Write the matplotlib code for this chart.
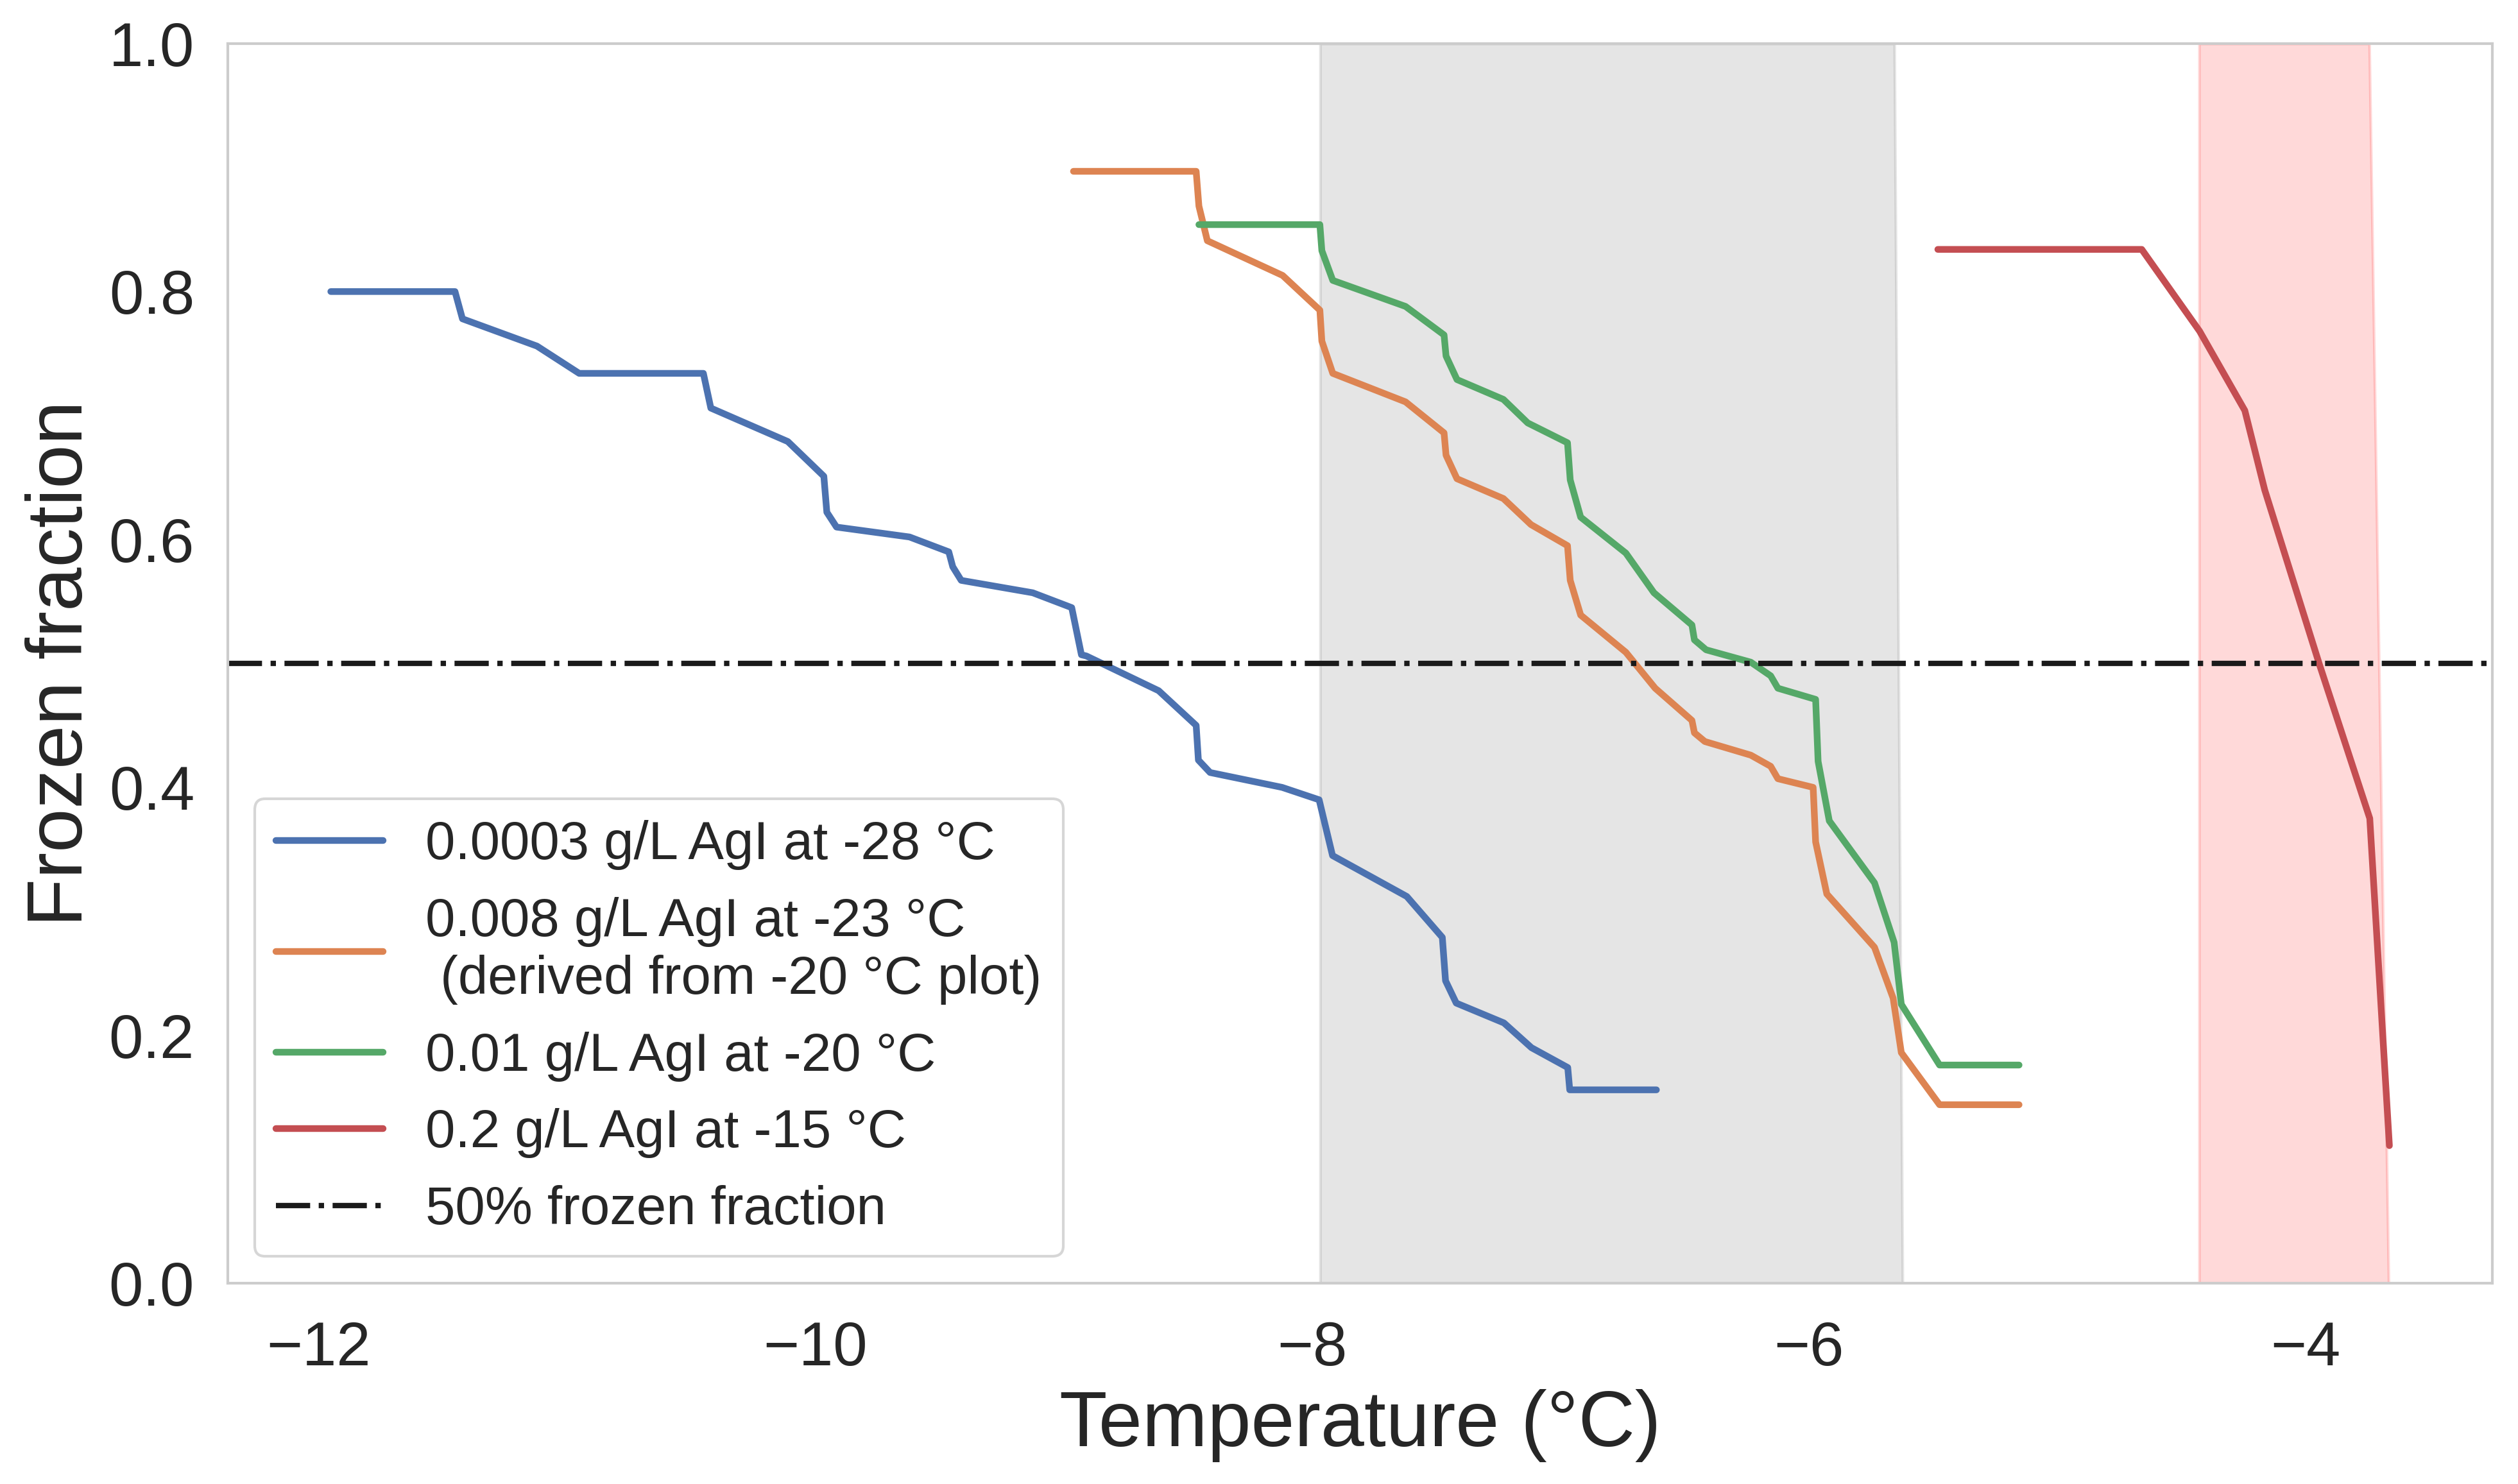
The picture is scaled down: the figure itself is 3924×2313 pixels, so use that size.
import matplotlib
matplotlib.use("Agg")
import matplotlib.pyplot as plt
import seaborn as sns

# frozen fraction curves
temp_0003 = [-11.95, -11.45, -11.42, -11.12, -10.95, -10.45, -10.42, -10.11, -9.965, -9.953,
             -9.914, -9.62, -9.462, -9.446, -9.412, -9.124, -8.967, -8.928, -8.908, -8.617,
             -8.466, -8.457, -8.41, -8.12, -7.971, -7.917, -7.618, -7.475, -7.462, -7.419,
             -7.227, -7.116, -6.97, -6.962, -6.613]
frac_0003 = [0.800, 0.800, 0.778, 0.756, 0.734, 0.734, 0.706, 0.679, 0.651, 0.622,
             0.610, 0.602, 0.590, 0.578, 0.567, 0.557, 0.545, 0.507, 0.506, 0.478,
             0.450, 0.422, 0.412, 0.400, 0.390, 0.345, 0.312, 0.279, 0.244, 0.226,
             0.210, 0.190, 0.174, 0.156, 0.156]

temp_008 = [-8.96, -8.466, -8.455, -8.421, -8.118, -7.968, -7.96, -7.916, -7.623, -7.468,
            -7.46, -7.416, -7.229, -7.118, -6.971, -6.96, -6.918, -6.736, -6.618, -6.47,
            -6.46, -6.418, -6.233, -6.153, -6.124, -5.982, -5.972, -5.927, -5.735, -5.66,
            -5.627, -5.473, -5.153]
frac_008 = [0.897, 0.897, 0.869, 0.841, 0.813, 0.785, 0.760, 0.734, 0.711, 0.686,
            0.668, 0.649, 0.633, 0.612, 0.595, 0.567, 0.539, 0.509, 0.480, 0.454,
            0.444, 0.437, 0.426, 0.417, 0.407, 0.400, 0.356, 0.314, 0.271, 0.230,
            0.186, 0.144, 0.144]

temp_01 = [-8.455, -7.968, -7.96, -7.916, -7.623, -7.468, -7.46, -7.416, -7.229, -7.131,
           -6.971, -6.96, -6.918, -6.736, -6.623, -6.47, -6.46, -6.413, -6.233, -6.153,
           -6.124, -5.972, -5.962, -5.917, -5.735, -5.656, -5.627, -5.473, -5.153]
frac_01 = [0.854, 0.854, 0.833, 0.809, 0.788, 0.765, 0.748, 0.729, 0.713, 0.694,
           0.678, 0.648, 0.618, 0.589, 0.557, 0.531, 0.519, 0.511, 0.501, 0.490,
           0.480, 0.471, 0.421, 0.373, 0.323, 0.275, 0.225, 0.176, 0.176]

temp_2 = [-5.48, -4.659, -4.426, -4.244, -4.164, -3.945, -3.741, -3.662]
frac_2 = [0.834, 0.834, 0.768, 0.704, 0.640, 0.500, 0.375, 0.111]

labels = ["0.0003 g/L AgI at -28 °C",
          "0.008 g/L AgI at -23 °C\n (derived from -20 °C plot)",
          "0.01 g/L AgI at -20 °C",
          "0.2 g/L AgI at -15 °C"]

# shaded temperature ranges (edges at y = 0 and y = 1)
band_y = [0.0, 1.0]
gray_left = [-7.967, -7.967]
gray_right = [-5.622, -5.655]
pink_left = [-4.428, -4.428]
pink_right = [-3.665, -3.743]

sns.set_theme(style="white")
plt.rcParams["font.family"] = ["Liberation Sans", "DejaVu Sans"]
plt.rcParams["axes.edgecolor"] = "0.8"

fig, ax = plt.subplots(figsize=(13.08, 7.71), dpi=300)
fig.subplots_adjust(left=0.0905, right=0.9898, bottom=0.1353, top=0.9706)

palette = sns.color_palette("deep")
ax.fill_betweenx(band_y, gray_left, gray_right, color="gray", alpha=0.2)
ax.fill_betweenx(band_y, pink_left, pink_right, color="red", alpha=0.15)

lw = 2.5
ax.plot(temp_0003, frac_0003, color=palette[0], lw=lw, label=labels[0], solid_capstyle="round")
ax.plot(temp_008, frac_008, color=palette[1], lw=lw, label=labels[1], solid_capstyle="round")
ax.plot(temp_01, frac_01, color=palette[2], lw=lw, label=labels[2], solid_capstyle="round")
ax.plot(temp_2, frac_2, color=palette[3], lw=lw, label=labels[3], solid_capstyle="round")
ax.axhline(0.5, color="k", ls="-.", lw=2, label="50% frozen fraction")

ax.set_ylim(0, 1)
ax.set_xticks([-12, -10, -8, -6, -4])
ax.set_yticks([0.0, 0.2, 0.4, 0.6, 0.8, 1.0])
ax.tick_params(axis="x", labelsize=23, pad=8)
ax.tick_params(axis="y", labelsize=23, pad=6.5)
ax.set_xlabel("Temperature (°C)", fontsize=29.3)
ax.set_ylabel("Frozen fraction", fontsize=29.5)
for s in ax.spines.values():
    s.set_linewidth(1.0)

ax.legend(loc="lower left", fontsize=20, frameon=True, edgecolor="0.8")

plt.savefig("out.png", dpi=300)
